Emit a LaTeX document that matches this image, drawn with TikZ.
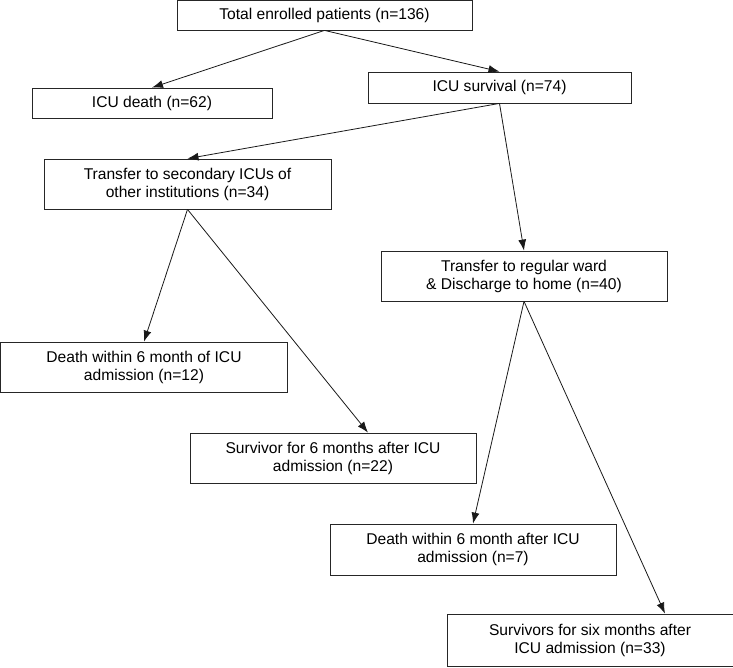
\documentclass[tikz,border=0pt]{standalone}
\usepackage{fontspec}
\setmainfont{Liberation Sans}
\usetikzlibrary{arrows.meta}

\begin{document}
\begin{tikzpicture}[x=1pt,y=-1pt,
    stage/.style={draw=black!85,line width=0.8pt,align=center,inner sep=0pt,
      minimum width=286pt,minimum height=50pt,
      font=\fontsize{15.6}{18}\selectfont,text=black},
    flow/.style={draw=black!90,line width=0.8pt,-{Latex[length=11pt,width=8pt]}}]
  \useasboundingbox (0,0) rectangle (733,667);

  \node[stage,minimum width=295pt,minimum height=30pt] (enrolled)  at (324.5,15)  {Total enrolled patients (n=136)};
  \node[stage,minimum width=240pt,minimum height=30pt] (icu death) at (152,103)   {ICU death (n=62)};
  \node[stage,minimum width=263pt,minimum height=31pt] (icu survival) at (499.5,87.5) {ICU survival (n=74)};
  \node[stage,minimum width=287pt] (secondary icu)      at (187.5,184) {Transfer to secondary ICUs of\\other institutions (n=34)};
  \node[stage]                     (ward home)          at (524,276)   {Transfer to regular ward\\\& Discharge to home (n=40)};
  \node[stage,minimum width=287pt] (death secondary)    at (144,367)   {Death within 6 month of ICU\\admission (n=12)};
  \node[stage]                     (survivor secondary) at (333,458)   {Survivor for 6 months after ICU\\admission (n=22)};
  \node[stage,minimum height=51pt] (death ward)         at (473,549.5) {Death within 6 month after ICU\\admission (n=7)};
  \node[stage,minimum height=52pt] (survivor ward)      at (590,640)   {Survivors for six months after\\ICU admission (n=33)};

  \draw [flow] (enrolled.south) -- (icu death.north);
  \draw [flow] (enrolled.south) -- (icu survival.north);
  \draw [flow] (icu survival.south) -- (secondary icu.north);
  \draw [flow] (icu survival.south) -- (ward home.north);
  \draw [flow] (secondary icu.south) -- (death secondary.north);
  \draw [flow] (secondary icu.south) -- ([xshift=35pt]survivor secondary.north);
  \draw [flow] (ward home.south) -- (death ward.north);
  \draw [flow] (ward home.south) -- ([xshift=75pt]survivor ward.north);
\end{tikzpicture}
\end{document}
